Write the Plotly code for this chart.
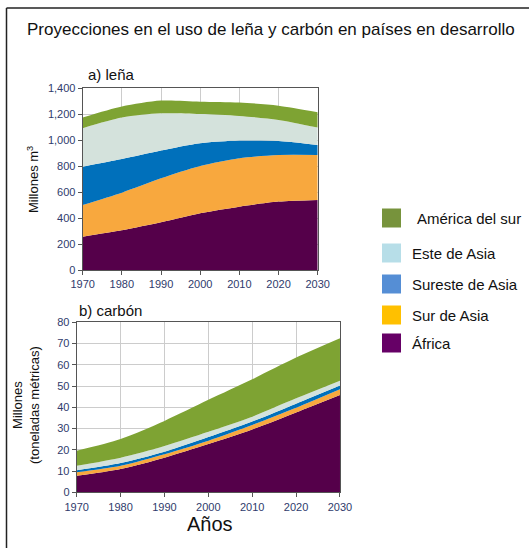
import plotly.graph_objects as go

# Years shared by both panels
years = [1970, 1980, 1990, 2000, 2010, 2020, 2030]

# a) leña — millones de m3, per region (stacked)
lena_africa = [257, 306, 367, 437, 488, 527, 540]
lena_sur_asia = [244, 290, 339, 364, 373, 359, 346]
lena_sureste_asia = [295, 259, 214, 175, 136, 108, 77]
lena_este_asia = [296, 319, 287, 226, 190, 162, 134]
lena_america_sur = [82, 85, 98, 95, 103, 110, 118]

# b) carbón — millones de toneladas métricas, per region (stacked)
carbon_africa = [7.8, 11.0, 16.3, 22.7, 29.6, 37.6, 45.8]
carbon_sur_asia = [1.6, 1.5, 1.6, 1.6, 2.1, 2.2, 2.7]
carbon_sureste_asia = [1.0, 1.3, 1.2, 1.7, 1.6, 1.9, 1.7]
carbon_este_asia = [2.1, 2.5, 2.7, 2.5, 2.3, 2.5, 2.3]
carbon_america_sur = [7.1, 8.8, 11.8, 15.0, 17.6, 19.2, 20.0]

region_names = ["África", "Sur de Asia", "Sureste de Asia", "Este de Asia", "América del sur"]
area_colors = ["#55004a", "#f8a83e", "#0070bb", "#d4e2dc", "#7ea333"]
legend_colors = ["#660066", "#ffc000", "#558ed5", "#b7dee8", "#77933c"]
legend_labels = ["América del sur", "Este de Asia", "Sureste de Asia", "Sur de Asia", "África"]

lena_series = [lena_africa, lena_sur_asia, lena_sureste_asia, lena_este_asia, lena_america_sur]
carbon_series = [carbon_africa, carbon_sur_asia, carbon_sureste_asia, carbon_este_asia, carbon_america_sur]

fig = go.Figure()

for name, vals, col in zip(region_names, lena_series, area_colors):
    fig.add_trace(go.Scatter(
        x=years, y=vals, name=name, stackgroup="lena", mode="lines",
        line=dict(width=0, shape="spline", smoothing=0.8), fillcolor=col,
        xaxis="x", yaxis="y", showlegend=False, hoverinfo="x+y+name"))

for name, vals, col in zip(region_names, carbon_series, area_colors):
    fig.add_trace(go.Scatter(
        x=years, y=vals, name=name, stackgroup="carbon", mode="lines",
        line=dict(width=0, shape="spline", smoothing=0.8), fillcolor=col,
        xaxis="x2", yaxis="y2", showlegend=False, hoverinfo="x+y+name"))

tick_font = dict(family="Liberation Sans, Arial", size=11, color="#2f3b6c")
axis_common = dict(
    showline=True, linecolor="#555555", linewidth=1, mirror=True,
    showgrid=True, gridcolor="#cccccc", gridwidth=1,
    ticks="outside", ticklen=4, tickcolor="#555555",
    tickfont=tick_font, zeroline=False, automargin=False,
)

fig.update_layout(
    width=529, height=548,
    margin=dict(l=0, r=0, t=0, b=0, autoexpand=False),
    paper_bgcolor="white", plot_bgcolor="white",
    xaxis=dict(domain=[0.1563, 0.6006], range=[1970, 2030], tickvals=years,
               anchor="y", **axis_common),
    yaxis=dict(domain=[0.5073, 0.8389], range=[0, 1400], tickvals=list(range(0, 1401, 200)),
               tickformat=",d", anchor="x", **axis_common),
    xaxis2=dict(domain=[0.145, 0.6427], range=[1970, 2030], tickvals=years,
                anchor="y2", **axis_common),
    yaxis2=dict(domain=[0.1016, 0.4119], range=[0, 80], tickvals=list(range(0, 81, 10)),
                anchor="x2", **axis_common),
    showlegend=False,
)

text_font = dict(family="Liberation Sans, Arial", color="#111111")

# Frame around the whole figure (left and top edges visible)
fig.add_shape(type="line", xref="paper", yref="paper", x0=6.5 / 529, x1=1.01,
              y0=1 - 8 / 548, y1=1 - 8 / 548, line=dict(color="#222222", width=1.5))
fig.add_shape(type="line", xref="paper", yref="paper", x0=6.5 / 529, x1=6.5 / 529,
              y0=1 - 8 / 548, y1=-0.01, line=dict(color="#222222", width=1.5))

annotations = [
    dict(text="Proyecciones en el uso de leña y carbón en países en desarrollo",
         x=271 / 529, y=1 - 30 / 548, font=dict(size=17, **text_font)),
    dict(text="a) leña", x=111 / 529, y=1 - 74 / 548, font=dict(size=15, **text_font)),
    dict(text="b) carbón", x=110 / 529, y=1 - 310 / 548, font=dict(size=15, **text_font)),
    dict(text="Millones m<sup>3</sup>", x=33 / 529, y=1 - 180 / 548, textangle=-90,
         font=dict(size=13, **text_font)),
    dict(text="Millones<br>(toneladas métricas)", x=26 / 529, y=1 - 405 / 548, textangle=-90,
         font=dict(size=13, **text_font)),
    dict(text="Años", x=210 / 529, y=1 - 524 / 548, font=dict(size=20, **text_font)),
]

# Legend built from swatches and labels
swatch_y = [218, 253, 284, 315, 343]
label_x = [415, 410, 410, 410, 410]
for lab, col, yc, lx in zip(legend_labels, legend_colors[::-1], swatch_y, label_x):
    fig.add_shape(type="rect", xref="paper", yref="paper",
                  x0=382 / 529, x1=401 / 529,
                  y0=1 - (yc + 9.5) / 548, y1=1 - (yc - 9.5) / 548,
                  fillcolor=col, line=dict(width=0))
    annotations.append(dict(text=lab, x=lx / 529, y=1 - yc / 548, xanchor="left",
                            font=dict(size=15, **text_font)))

for a in annotations:
    a.setdefault("xanchor", "center")
    a.update(xref="paper", yref="paper", yanchor="middle", showarrow=False)
fig.update_layout(annotations=annotations)

fig.write_html("out.html")
